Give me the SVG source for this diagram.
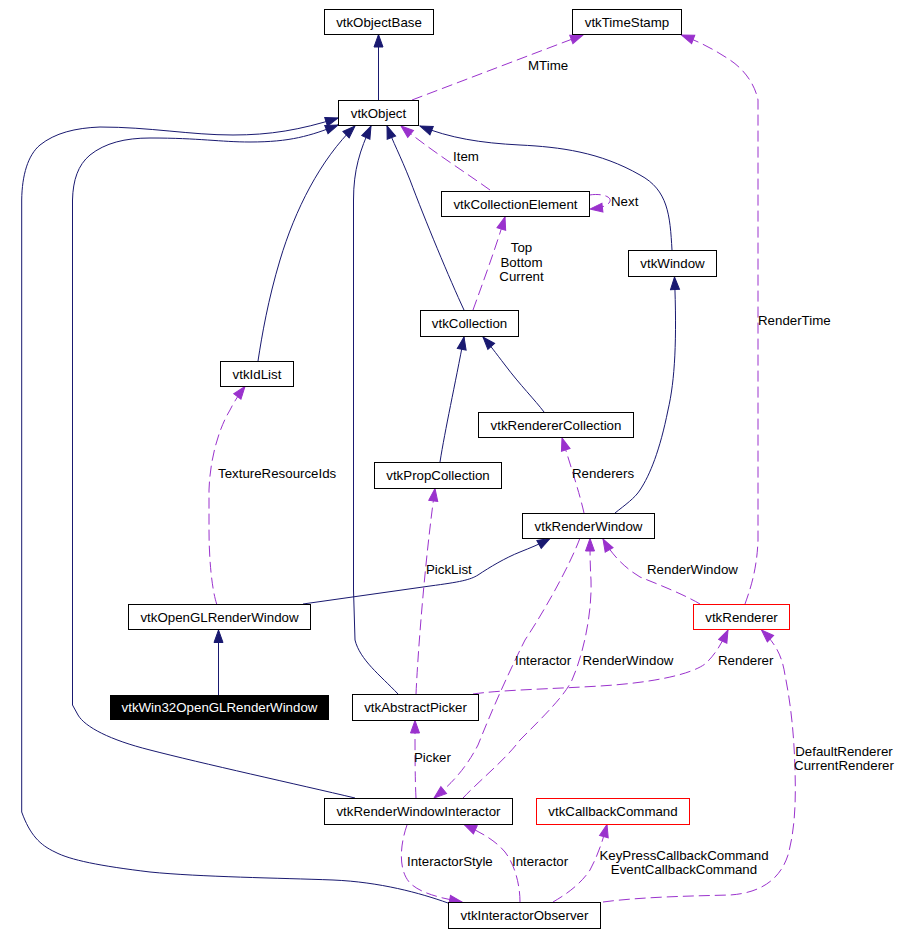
<svg xmlns="http://www.w3.org/2000/svg" width="910" height="935" viewBox="0 0 910 935">
<style>
text{font-family:"Liberation Sans",Arial,sans-serif;font-size:13.3px;fill:#000}
.n rect{fill:#fff;stroke:#000;stroke-width:1}
.n text{text-anchor:middle}
.red rect{stroke:#ff0000}
.blk rect{fill:#000;stroke:#000}
.blk text{fill:#fff}
.inh{fill:none;stroke:#191970;stroke-width:1;marker-end:url(#an)}
.use{fill:none;stroke:#9a32cd;stroke-width:1;stroke-dasharray:11,5;marker-end:url(#ap)}
.lbl{text-anchor:start}
.mid{text-anchor:middle}
</style>
<defs>
<marker id="an" markerUnits="userSpaceOnUse" markerWidth="16" markerHeight="12" refX="13.5" refY="5.5" orient="auto" viewBox="0 0 16 12">
<path d="M1,1 L13.5,5.5 L1,10 z" fill="#191970" stroke="#191970" stroke-width="1" stroke-dasharray="none"/>
</marker>
<marker id="ap" markerUnits="userSpaceOnUse" markerWidth="16" markerHeight="12" refX="13.5" refY="5.5" orient="auto" viewBox="0 0 16 12">
<path d="M1,1 L13.5,5.5 L1,10 z" fill="#9a32cd" stroke="#9a32cd" stroke-width="1" stroke-dasharray="none"/>
</marker>
</defs>
<rect x="0" y="0" width="910" height="935" fill="#fff"/>
<g id="connectors">
<path class="inh" d="M378.5,100 L378.5,34.5"/>
<path class="use" d="M412,100 C470,78 530,55 583,35"/>
<path class="use" d="M490,190 C465,172 430,150 401,126"/>
<path class="use" d="M589.5,195 C602,193 614,197 609,203 C605,207 599,208 590,209"/>
<path class="inh" d="M464,310 C450,280 425,220 410,180 C400,155 393,142 387,126"/>
<path class="use" d="M473,310 C482,285 495,250 505,217"/>
<path class="inh" d="M672,250 C670,215 668,190 640,175 C600,152 560,147 520,145 C480,143 450,138 420,126"/>
<path class="inh" d="M258,361 C262,335 268,300 280,260 C295,210 320,160 355,126"/>
<path class="inh" d="M398,694 C380,675 360,660 355,640 L353.5,590 L353.5,200 C353.5,170 360,150 371,126"/>
<path class="inh" d="M355,798 C300,785 200,763 150,750 C110,740 85,727 78,715 L72.5,705 L72.5,200 C73,180 78,165 90,155 C105,143 125,138 150,138 C200,138 220,142 250,142 C290,142 310,136 338,125"/>
<path class="inh" d="M448,903 C420,893 380,882 333,880 C280,878 200,877 150,872 C100,866 70,860 55,852 C40,845 30,835 21.7,812 L21.7,200 C22,175 28,155 40,145 C55,133 75,128 100,127 C150,127 190,135 233,135 C270,135 300,130 338,118"/>
<path class="inh" d="M544,412 C535,400 520,385 505,365 C495,352 490,345 483,337"/>
<path class="inh" d="M440,462 C445,430 455,385 464,337"/>
<path class="inh" d="M615,513 C625,505 635,498 640,490 C650,475 660,450 668,410 C675,380 677,340 674.5,277"/>
<path class="use" d="M584,513 C580,495 572,470 562,438"/>
<path class="inh" d="M303,604 L430,586 C460,582 470,580 478,575 C490,567 505,558 520,552 C530,548 540,544 550,538.5"/>
<path class="use" d="M216.7,604 C212,590 209,560 209,530 L209,490 C210,460 218,430 230,410 C235,400 240,393 245,386.5"/>
<path class="inh" d="M218.5,695 L218.5,630"/>
<path class="use" d="M416,694 C418,650 425,560 435,488.5"/>
<path class="use" d="M700,604 C685,595 660,585 640,577 C625,568 612,555 603,539"/>
<path class="use" d="M745,604 C750,590 757,570 758,540 L758,100 C755,85 745,70 730,60 C715,50 700,42 681.5,35"/>
<path class="use" d="M580,538 C570,565 545,610 525,640 C505,680 490,715 478,745 C465,770 450,785 434,798"/>
<path class="use" d="M463,798 C480,780 505,760 520,740 C545,715 565,695 572,680 C585,650 592,610 591,580 C590,565 590,550 590,538.5"/>
<path class="use" d="M473,694 C500,690 550,689 600,686 C650,683 690,675 705,664 C715,655 722,643 728,630"/>
<path class="use" d="M603,902 C640,897 690,896 730,895 C760,893 780,880 788,855 C795,830 796,800 795,770 C794,730 790,700 785,675 C782,655 775,643 761.5,630"/>
<path class="use" d="M416,798 C415,780 415,750 415,720.5"/>
<path class="use" d="M407,825 C400,845 398,870 410,883 C420,893 440,898 462,902"/>
<path class="use" d="M520,902 C520,885 515,865 505,852 C495,840 480,832 464,824.5"/>
<path class="use" d="M553,902 C565,895 580,885 590,870 C598,855 603,840 607,824.5"/>
<text class="lbl" x="528" y="70">MTime</text>
<text class="lbl" x="453" y="161">Item</text>
<text class="lbl" x="611" y="206">Next</text>
<text class="mid" x="521.5" y="252">Top</text>
<text class="mid" x="521.5" y="266.5">Bottom</text>
<text class="mid" x="521.5" y="281">Current</text>
<text class="lbl" x="758" y="325">RenderTime</text>
<text class="lbl" x="218" y="477.5">TextureResourceIds</text>
<text class="lbl" x="572" y="477.5">Renderers</text>
<text class="lbl" x="426" y="573.5">PickList</text>
<text class="lbl" x="647" y="573.5">RenderWindow</text>
<text class="lbl" x="515" y="665">Interactor</text>
<text class="lbl" x="582.5" y="665">RenderWindow</text>
<text class="lbl" x="718" y="665">Renderer</text>
<text class="lbl" x="414" y="762">Picker</text>
<text class="mid" x="844" y="755.5">DefaultRenderer</text>
<text class="mid" x="844" y="770">CurrentRenderer</text>
<text class="lbl" x="407" y="865.5">InteractorStyle</text>
<text class="lbl" x="512" y="865.5">Interactor</text>
<text class="mid" x="684" y="860">KeyPressCallbackCommand</text>
<text class="mid" x="684" y="873.5">EventCallbackCommand</text>
</g>
<g id="vtkObjectBase" class="n"><rect x="324.5" y="9.5" width="109" height="25"/><text x="379" y="26.5">vtkObjectBase</text></g>
<g id="vtkTimeStamp" class="n"><rect x="572.5" y="9.5" width="109" height="25"/><text x="627" y="26.5">vtkTimeStamp</text></g>
<g id="vtkObject" class="n"><rect x="338.5" y="100.5" width="80" height="25"/><text x="378.5" y="117.5">vtkObject</text></g>
<g id="vtkCollectionElement" class="n"><rect x="441.5" y="191.5" width="148" height="25"/><text x="515.5" y="208.5">vtkCollectionElement</text></g>
<g id="vtkWindow" class="n"><rect x="628.5" y="250.5" width="88" height="26"/><text x="672.5" y="267.5">vtkWindow</text></g>
<g id="vtkCollection" class="n"><rect x="420.5" y="310.5" width="98" height="26"/><text x="469.5" y="327.5">vtkCollection</text></g>
<g id="vtkIdList" class="n"><rect x="220.5" y="361.5" width="73" height="25"/><text x="257" y="378.5">vtkIdList</text></g>
<g id="vtkRendererCollection" class="n"><rect x="478.5" y="412.5" width="155" height="25"/><text x="556" y="429.5">vtkRendererCollection</text></g>
<g id="vtkPropCollection" class="n"><rect x="374.5" y="462.5" width="127" height="26"/><text x="438" y="479.5">vtkPropCollection</text></g>
<g id="vtkRenderWindow" class="n"><rect x="522.5" y="513.5" width="132" height="25"/><text x="588.5" y="530.5">vtkRenderWindow</text></g>
<g id="vtkOpenGLRenderWindow" class="n"><rect x="128.5" y="604.5" width="182" height="25"/><text x="219.5" y="621.5">vtkOpenGLRenderWindow</text></g>
<g id="vtkRenderer" class="n red"><rect x="693.5" y="604.5" width="96" height="25"/><text x="741.5" y="621.5">vtkRenderer</text></g>
<g id="vtkWin32OpenGLRenderWindow" class="n blk"><rect x="110.5" y="695.5" width="218" height="24"/><text x="219.5" y="712">vtkWin32OpenGLRenderWindow</text></g>
<g id="vtkAbstractPicker" class="n"><rect x="352.5" y="694.5" width="126" height="26"/><text x="415.5" y="711.5">vtkAbstractPicker</text></g>
<g id="vtkRenderWindowInteractor" class="n"><rect x="324.5" y="798.5" width="188" height="26"/><text x="418.5" y="815.5">vtkRenderWindowInteractor</text></g>
<g id="vtkCallbackCommand" class="n red"><rect x="536.5" y="798.5" width="153" height="26"/><text x="613" y="815.5">vtkCallbackCommand</text></g>
<g id="vtkInteractorObserver" class="n"><rect x="448.5" y="902.5" width="152" height="26"/><text x="524.5" y="919.5">vtkInteractorObserver</text></g>
</svg>
